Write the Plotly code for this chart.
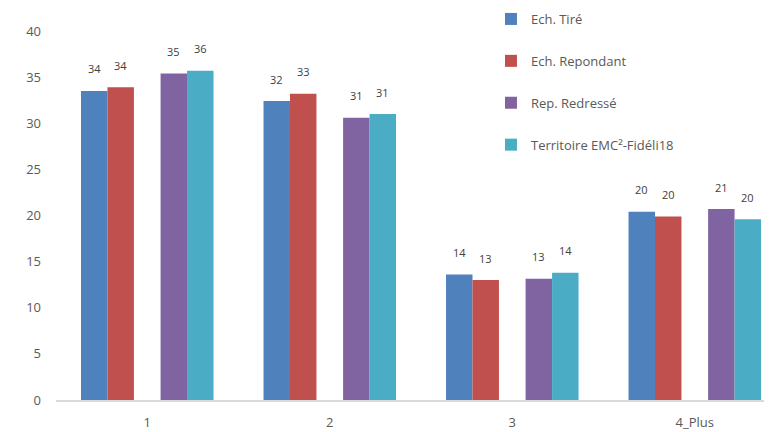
import plotly.graph_objects as go

categories = ["1", "2", "3", "4_Plus"]
series_names = ["Ech. Tiré", "Ech. Repondant", "Rep. Redressé", "Territoire EMC²-Fidéli18"]
ech_tire = [33.5, 32.4, 13.6, 20.4]
ech_repondant = [33.9, 33.2, 13.0, 19.9]
rep_redresse = [35.4, 30.6, 13.15, 20.7]
territoire = [35.7, 31.0, 13.8, 19.6]
y_ticks = [0, 5, 10, 15, 20, 25, 30, 35, 40]

series_values = [ech_tire, ech_repondant, rep_redresse, territoire]
colors = ["#4F81BD", "#C0504D", "#8064A2", "#4BACC6"]
width = 0.145
offsets = [-0.363, -0.218, 0.073, 0.218]

fig = go.Figure()
xs = list(range(len(categories)))
for name, vals, col, off in zip(series_names, series_values, colors, offsets):
    fig.add_trace(go.Bar(
        x=xs, y=vals, name=name, marker=dict(color=col, line=dict(width=0)),
        width=width, offset=off, legendgroup=name,
    ))

annotations = []
for vals, off in zip(series_values, offsets):
    for i, v in enumerate(vals):
        annotations.append(dict(
            x=i + off + width / 2, y=v, xref="x", yref="y",
            text=str(int(round(v))), showarrow=False, yshift=22,
            font=dict(family="Open Sans, sans-serif", size=11, color="#404040"),
        ))

fig.update_layout(
    width=772, height=432,
    margin=dict(l=48, r=8, t=23, b=40, autoexpand=False),
    paper_bgcolor="white", plot_bgcolor="white",
    barmode="overlay",
    annotations=annotations,
    xaxis=dict(
        tickmode="array", tickvals=xs, ticktext=categories,
        range=[-0.5, 3.423], showgrid=False, zeroline=False,
        showline=True, linecolor="#D9D9D9", linewidth=2,
        ticks="", tickfont=dict(family="Open Sans, sans-serif", size=13, color="#595959"),
        ticklabelstandoff=9,
    ),
    yaxis=dict(
        range=[0, 40], tickvals=y_ticks, showgrid=False, zeroline=False,
        showline=False, ticks="",
        tickfont=dict(family="Open Sans, sans-serif", size=13, color="#595959"),
        ticklabelstandoff=14,
    ),
    legend=dict(
        xref="paper", yref="paper", x=0.6075, y=1.0732,
        xanchor="left", yanchor="top", bgcolor="rgba(0,0,0,0)",
        font=dict(family="Open Sans, sans-serif", size=13, color="#595959"),
        tracegroupgap=22, itemwidth=30,
    ),
    showlegend=True,
)

fig.write_html("out.html")
